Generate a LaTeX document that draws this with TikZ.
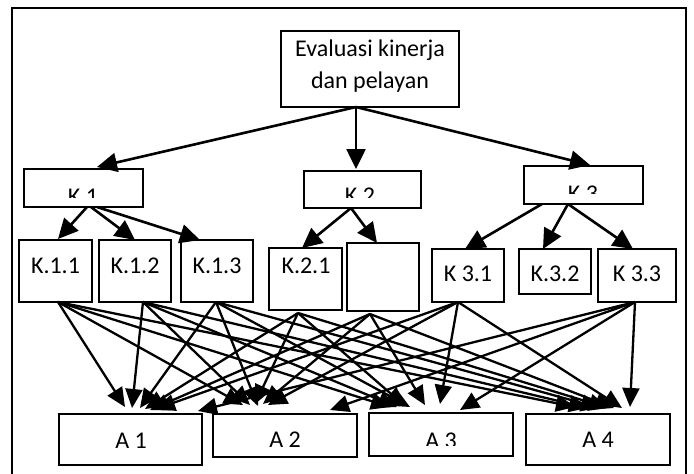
\documentclass[tikz,border=0pt]{standalone}
\usepackage{fontspec}
\setmainfont{Carlito}
\usetikzlibrary{arrows.meta}
\newcommand\kaArrow[6]{\draw[arr] ([xshift=#2pt,yshift=#3pt]#1.south) -- ([xshift=#5pt,yshift=#6pt]#4.north west);}
\begin{document}
\begin{tikzpicture}[x=1pt,y=-1pt,
  box/.style={draw, line width=2pt, anchor=north west, inner sep=0pt, outer sep=0pt},
  lbl/.style={font=\fontsize{24}{32}\selectfont, inner sep=0pt, anchor=base},
  arr/.style={line width=2.3pt, -{Triangle[length=19pt,width=17pt]}},
  toparr/.style={line width=2.6pt, -{Triangle[length=20pt,width=19pt]}}]
\useasboundingbox (0,0) rectangle (694,474);
\fill[white] (0,0) rectangle (694,474);
\draw[line width=2pt] (12,474) -- (12,8) -- (686,8) -- (686,474);

% boxes
\node[box, minimum width=178pt, minimum height=76pt] (T) at (281,31) {};
\node[box, minimum width=119pt, minimum height=38pt] (K1) at (24,169) {};
\node[box, minimum width=117pt, minimum height=37pt] (K2) at (304,171) {};
\node[box, minimum width=119pt, minimum height=38pt] (K3) at (524,166) {};
\node[box, minimum width=73pt, minimum height=62pt] (K11) at (19,240) {};
\node[box, minimum width=72pt, minimum height=62pt] (K12) at (99,240) {};
\node[box, minimum width=72pt, minimum height=62pt] (K13) at (181,240) {};
\node[box, minimum width=73pt, minimum height=62pt] (K21) at (269,248) {};
\node[box, minimum width=72pt, minimum height=68pt] (KE) at (347,243) {};
\node[box, minimum width=72pt, minimum height=53pt] (K31) at (432,249) {};
\node[box, minimum width=72pt, minimum height=45pt] (K32) at (519,249) {};
\node[box, minimum width=78pt, minimum height=53pt] (K33) at (598,249) {};
\node[box, minimum width=143pt, minimum height=51pt] (A1) at (59,414) {};
\node[box, minimum width=144pt, minimum height=43pt] (A2) at (213,414) {};
\node[box, minimum width=144pt, minimum height=43pt] (A3) at (369,413) {};
\node[box, minimum width=144pt, minimum height=51pt] (A4) at (526,414) {};

% labels
\node[lbl] (tT1) at (370,56) {Evaluasi kinerja};
\node[lbl] (tT2) at (370,88) {dan pelayan};
\begin{scope}\clip (24,169) rectangle (143,197); \node[lbl] (tK1) at (83,204.5) {K 1};\end{scope}
\begin{scope}\clip (304,171) rectangle (421,197); \node[lbl] (tK2) at (360,203.5) {K 2};\end{scope}
\begin{scope}\clip (524,166) rectangle (643,193); \node[lbl] (tK3) at (583,201.5) {K 3};\end{scope}
\node[lbl] (tK11) at (55.5,273) {K.1.1};
\node[lbl] (tK12) at (135,273) {K.1.2};
\node[lbl] (tK13) at (217,273) {K.1.3};
\node[lbl] (tK21) at (306,273) {K.2.1};
\node[lbl] (tK31) at (468,281) {K 3.1};
\node[lbl] (tK32) at (555,281) {K.3.2};
\node[lbl] (tK33) at (637,281) {K 3.3};
\node[lbl] (tA1) at (131,448) {A 1};
\node[lbl] (tA2) at (285,447) {A 2};
\begin{scope}\clip (369,413) rectangle (513,445); \node[lbl] (tA3) at (441,448) {A 3};\end{scope}
\node[lbl] (tA4) at (598,447) {A 4};

% top arrows
\draw[toparr] ([xshift=-14pt]T.south) -- ([xshift=13.5pt,yshift=2pt]K1.north);
\draw[toparr] ([xshift=-14pt]T.south) -- ([xshift=-6.5pt,yshift=2pt]K2.north);
\draw[toparr] ([xshift=-14pt]T.south) -- ([xshift=6.5pt,yshift=1pt]K3.north);

% second level
\draw[toparr] ([xshift=3.5pt]K1.south) -- ([xshift=2.5pt,yshift=1pt]K11.north);
\draw[toparr] ([xshift=7.5pt]K1.south) -- (K12.north);
\draw[toparr] ([xshift=13.5pt]K1.south) -- ([xshift=-17pt]K13.north);
\draw[toparr] ([xshift=-11.5pt]K2.south) -- ([xshift=-3.5pt]K21.north);
\draw[toparr] ([xshift=-11.5pt]K2.south) -- ([xshift=-6pt]KE.north);
\draw[toparr] ([xshift=-41.5pt]K3.south) -- ([xshift=-3pt]K31.north);
\draw[toparr] ([xshift=-15.5pt]K3.south) -- ([xshift=-12pt]K32.north);
\draw[toparr] ([xshift=-15.5pt]K3.south) -- ([xshift=-4pt]K33.north);

% bottom arrows
\kaArrow{K11}{2.5}{0}{A1}{66}{7}
\kaArrow{K11}{2.5}{0}{A2}{30}{9}
\kaArrow{K11}{2.5}{0}{A3}{21}{6}
\kaArrow{K11}{2.5}{0}{A4}{49}{7}
\kaArrow{K12}{8}{0}{A1}{73}{6}
\kaArrow{K12}{8}{0}{A2}{37}{9}
\kaArrow{K12}{8}{0}{A3}{28}{6}
\kaArrow{K12}{8}{0}{A4}{62}{6}
\kaArrow{K13}{-1}{0}{A1}{81}{6}
\kaArrow{K13}{-1}{0}{A2}{45}{8}
\kaArrow{K13}{-1}{0}{A3}{41}{6}
\kaArrow{K13}{-1}{0}{A4}{74}{6}
\kaArrow{K21}{-7.5}{-3}{A1}{86}{5}
\kaArrow{K21}{-7.5}{-3}{A2}{42}{10}
\kaArrow{K21}{-7.5}{-3}{A3}{36}{7}
\kaArrow{K21}{-7.5}{-3}{A4}{82}{6}
\kaArrow{KE}{-13}{-3}{A1}{91}{4}
\kaArrow{KE}{-13}{-3}{A2}{50}{10}
\kaArrow{KE}{-13}{-3}{A3}{56}{8}
\kaArrow{KE}{-13}{-3}{A4}{88}{6}
\kaArrow{K31}{-10}{0}{A1}{97}{5}
\kaArrow{K31}{-10}{0}{A2}{55}{9}
\kaArrow{K31}{-10}{0}{A3}{71}{9}
\kaArrow{K31}{-10}{0}{A4}{96}{6}
\kaArrow{K33}{-2}{0}{A1}{139}{3}
\kaArrow{K33}{-2}{0}{A2}{117}{4}
\kaArrow{K33}{-2}{0}{A3}{91}{3}
\kaArrow{K33}{-2}{0}{A4}{104}{7}
\end{tikzpicture}
\end{document}
